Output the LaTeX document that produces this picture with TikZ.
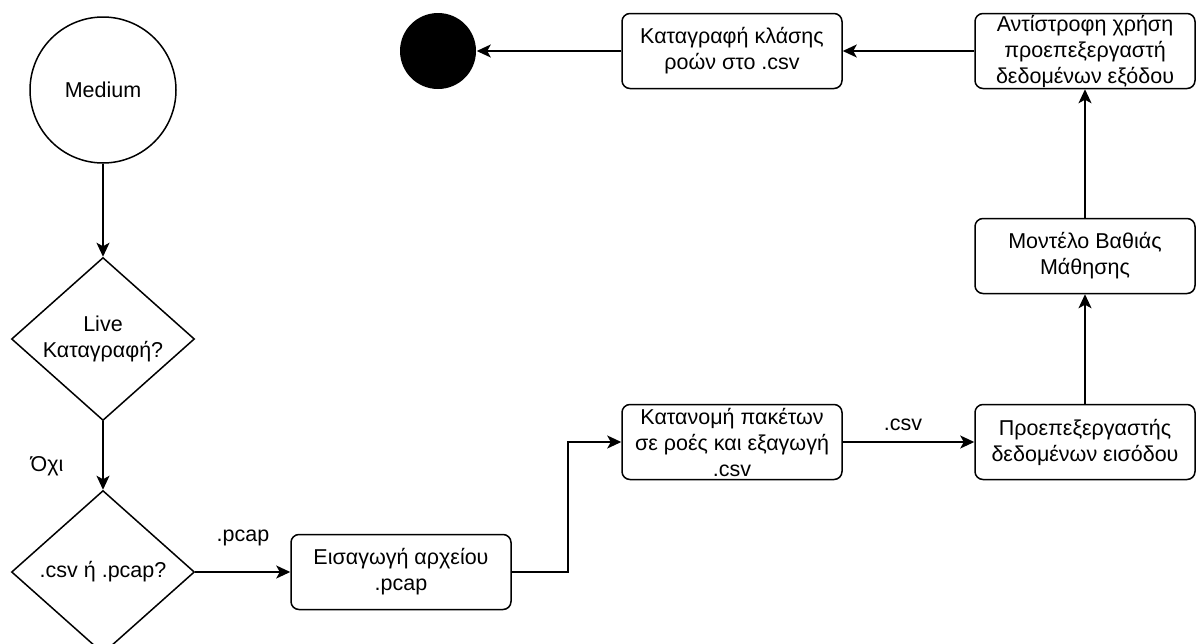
\documentclass[tikz,border=0pt]{standalone}
\usepackage{fontspec}
\setmainfont{Liberation Sans}
\usetikzlibrary{shapes.geometric,arrows.meta}
\begin{document}
\begin{tikzpicture}[x=1pt,y=-1pt,
  font=\fontsize{21.5pt}{26pt}\selectfont,
  line width=1.5pt,
  stepbox/.style={draw, rounded corners=8pt, minimum width=220pt, minimum height=75pt,
    align=center, inner sep=0pt},
  decision/.style={draw, diamond, inner sep=0pt, minimum width=183pt, minimum height=163pt,
    aspect=1.12, align=center},
  arr/.style={-{Stealth[length=14pt,width=13pt,inset=3.5pt]}},
  lbl/.style={inner sep=0pt}]
\useasboundingbox (0,0) rectangle (1197,643);

% start and end
\node[draw, circle, minimum size=146pt, inner sep=0pt] (start) at (103,90) {Medium};
\node[circle, fill=black, minimum size=76pt, inner sep=0pt] (stop) at (438,51) {};

% decisions
\node[decision] (live) at (103,339) {Live\\Καταγραφή?};
\node[decision] (fmt) at (103,572) {.csv ή .pcap?};

% processing steps
\node[stepbox] (ins) at (401,572) {Εισαγωγή αρχείου\\.pcap};
\node[stepbox] (kat) at (732,442) {Κατανομή πακέτων\\σε ροές και εξαγωγή\\.csv};
\node[stepbox] (pre) at (1085,442) {Προεπεξεργαστής\\δεδομένων εισόδου};
\node[stepbox] (dl) at (1085,256) {Μοντέλο Βαθιάς\\Μάθησης};
\node[stepbox] (inv) at (1085,51) {Αντίστροφη χρήση\\προεπεξεργαστή\\δεδομένων εξόδου};
\node[stepbox] (rec) at (732,51) {Καταγραφή κλάσης\\ροών στο .csv};

% connectors
\draw[arr] (start) -- (live);
\draw[arr] (live) -- (fmt);
\draw[arr] (fmt.east) -- (ins.west);
\draw[arr] (ins.east) -- ++(56,0) |- (kat.west);
\draw[arr] (kat.east) -- (pre.west);
\draw[arr] (pre.north) -- (dl.south);
\draw[arr] (dl.north) -- (inv.south);
\draw[arr] (inv.west) -- (rec.east);
\draw[arr] (rec.west) -- (stop.east);

% edge labels
\node[lbl] (no) at (47,466) {Όχι};
\node[lbl] (pcap) at (243,538) {.pcap};
\node[lbl] (csv) at (903,425) {.csv};
\end{tikzpicture}
\end{document}
